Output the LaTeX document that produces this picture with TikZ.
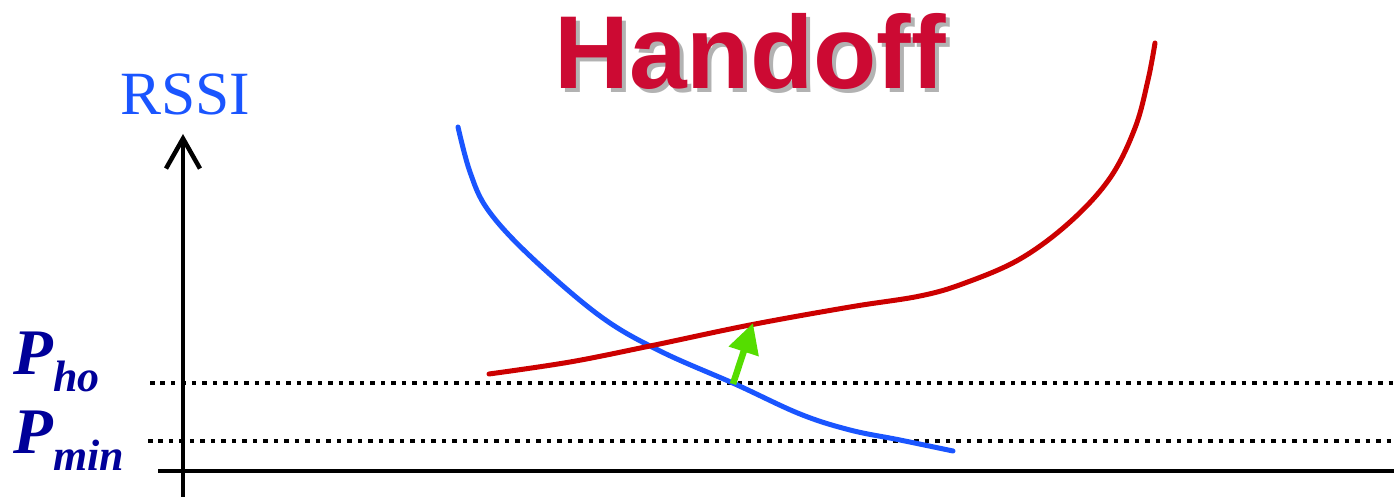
\documentclass[tikz,border=0pt]{standalone}
\usepackage{fontspec}
\setmainfont{Liberation Serif}
\newfontfamily\titlefont{Liberation Sans}
\usepackage{tikz}
\usetikzlibrary{arrows.meta,positioning}

\definecolor{rssiblue}{HTML}{1A55FF}
\definecolor{cellred}{HTML}{CC0000}
\definecolor{titlered}{HTML}{CC0A33}
\definecolor{pblue}{HTML}{000099}
\definecolor{hogreen}{HTML}{55DD00}

\newcommand{\plevel}[1]{P\raisebox{-0.34cm}{\fontsize{25}{28}\selectfont #1}}

\begin{document}
\begin{tikzpicture}[x=0.02cm, y=-0.02cm,
	   axis/.style={line width=0.09cm},
	   lvl/.style={line width=0.09cm, dash pattern=on 0.09cm off 0.12cm},
	   sig/.style={line width=0.1cm, line cap=round},
	   plab/.style={text=pblue, font=\fontsize{37}{42}\selectfont\bfseries\itshape, inner sep=0pt}]
	  \useasboundingbox (0,0) rectangle (1394,499);
	  % axes
	  \coordinate (ytop) at (183,134);
	  \coordinate (ybot) at (183,497);
	  \coordinate (xl) at (158,471);
	  \coordinate (xr) at (1394,471);
	  \draw[axis] (xl) -- (xr);
	  \draw[axis, -{Straight Barb[length=0.6cm,width=0.68cm]}] (ybot) -- (ytop);
	  \node[text=rssiblue, font=\fontsize{35}{40}\selectfont, inner sep=0pt] (rssi) at (185,94) {RSSI};
	  % thresholds
	  \coordinate (ho-l) at (150,383);
	  \coordinate (ho-r) at (1394,383);
	  \coordinate (min-l) at (148,441);
	  \coordinate (min-r) at (1394,441);
	  \draw[lvl] (ho-l) -- (ho-r);
	  \draw[lvl] (min-l) -- (min-r);
	  \node[plab, anchor=base west] (pho) at (13,375) {\plevel{ho}};
	  \node[plab, anchor=base west] (pmin) at (13,454) {\plevel{min}};
	  % old and new base station
	  \draw[sig, rssiblue] plot[smooth, tension=0.6] coordinates {(458,127) (470,172) (488,210) (530,256) (600,316) (660,351) (735,384) (800,414) (850,430) (900,440) (953,451)};
	  \draw[sig, cellred] plot[smooth, tension=0.6] coordinates {(489,374) (570,362) (650,346) (750,325) (850,307) (920,296) (965,283) (1020,259) (1070,222) (1110,178) (1135,128) (1148,80) (1155,43)};
	  % switch
	  \coordinate (sw-a) at (733,384);
	  \coordinate (sw-b) at (753,323);
	  \draw[hogreen, line width=0.13cm, -{Triangle[length=0.6cm,width=0.6cm]}] (sw-a) -- (sw-b);
	  % title
	  \node[text=black!30, font=\titlefont\fontsize{59}{64}\selectfont\bfseries, inner sep=0pt] (shadow) at (754,55) {Handoff};
	  \node[text=titlered, font=\titlefont\fontsize{59}{64}\selectfont\bfseries, inner sep=0pt] (title) at (750,51) {Handoff};
	\end{tikzpicture}
\end{document}
